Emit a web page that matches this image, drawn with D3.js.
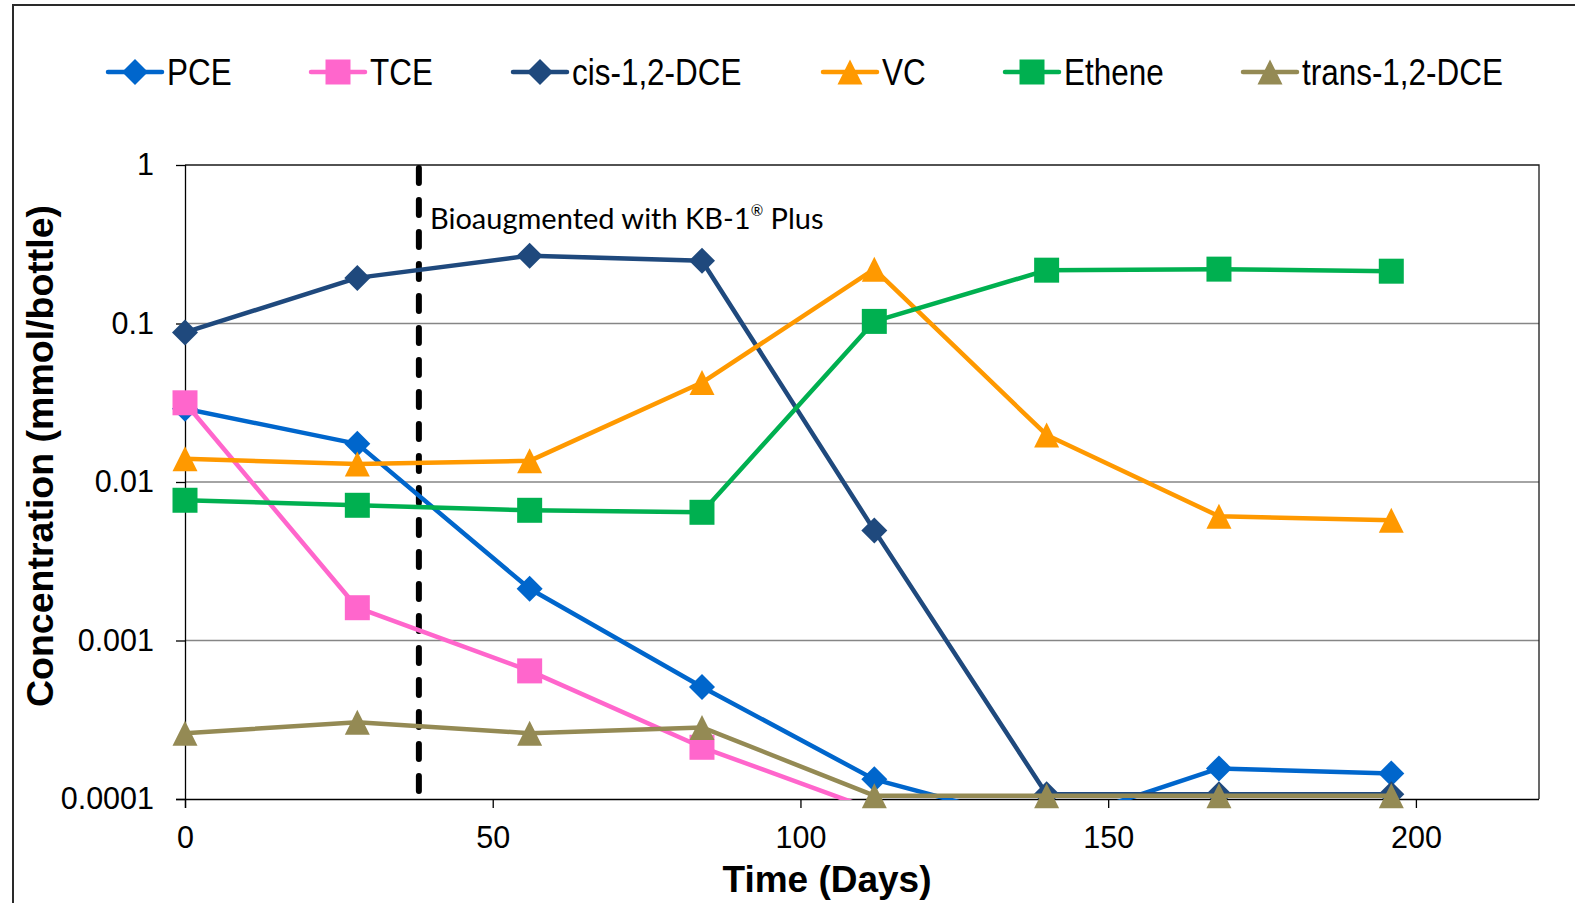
<!DOCTYPE html>
<html><head><meta charset="utf-8">
<script src="https://cdn.jsdelivr.net/npm/d3@7"></script>
<style>body{margin:0;background:#fff}svg{display:block}</style>
</head><body><svg id="chart" width="1575" height="903"></svg>
<script>
// Sampling days and concentrations (mmol/bottle)
const days = [0, 28, 56, 84, 112, 140, 168, 196];
const pce = [0.029, 0.0174, 0.00212, 0.000509, 0.000133, 0.000068, 0.000156, 0.000145];
const tce = [0.0316, 0.00161, 0.000643, 0.000212, 0.000085];
const cisDce = [0.0878, 0.194, 0.268, 0.249, 0.00495, 0.000107, 0.000107, 0.000107];
const vc = [0.0140, 0.0130, 0.0136, 0.0424, 0.220, 0.0198, 0.00608, 0.00573];
const ethene = [0.00767, 0.00713, 0.00663, 0.00644, 0.1031, 0.217, 0.2203, 0.2138];
const transDce = [0.00026, 0.000305, 0.00026, 0.000283, 0.000105, 0.000105, 0.000105, 0.000105];
const seriesNames = ["PCE", "TCE", "cis-1,2-DCE", "VC", "Ethene", "trans-1,2-DCE"];
const seriesValues = [pce, tce, cisDce, vc, ethene, transDce];
const seriesColors = ["#0066CC", "#FF66CC", "#1F497D", "#FF9900", "#00B050", "#948A54"];
const seriesMarkers = ["diamond", "square", "diamond", "triangle", "square", "triangle"];
const xTickValues = [0, 50, 100, 150, 200];
const yTickValues = [0.0001, 0.001, 0.01, 0.1, 1];
const yTickLabels = ["0.0001", "0.001", "0.01", "0.1", "1"];
const bioaugmentDay = 38;

// layout
const plot = {left: 185, right: 1539, top: 165, bottom: 799};
const legendX = [108, 311, 513, 823, 1005, 1243];
const legendY = 72;

const svg = d3.select("#chart");
const x = d3.scaleLinear().domain([0, 220]).range([plot.left, plot.right]);
const y = d3.scaleLog().domain([0.0001, 1]).range([plot.bottom, plot.top]);

// outer chart frame
svg.append("path").attr("d", "M13,903V5H1575")
  .attr("fill", "none").attr("stroke", "#2a2a2a").attr("stroke-width", 2);

// gridlines
svg.append("g").selectAll("line").data(yTickValues.slice(1, 4)).join("line")
  .attr("x1", plot.left).attr("x2", plot.right)
  .attr("y1", d => y(d)).attr("y2", d => y(d))
  .attr("stroke", "#868686").attr("stroke-width", 1.3);

// plot frame (top / right)
svg.append("path")
  .attr("d", `M${plot.left},${plot.top}H${plot.right}V${plot.bottom}`)
  .attr("fill", "none").attr("stroke", "#1a1a1a").attr("stroke-width", 1.3);

// axes
const xAxis = svg.append("g").attr("transform", `translate(0,${plot.bottom})`)
  .call(d3.axisBottom(x).tickValues(xTickValues).tickSize(9).tickSizeOuter(0).tickPadding(18).tickFormat(d3.format("d")));
const yAxis = svg.append("g").attr("transform", `translate(${plot.left},0)`)
  .call(d3.axisLeft(y).tickValues(yTickValues).tickSize(9).tickSizeOuter(0).tickPadding(22)
    .tickFormat((d, i) => yTickLabels[i]));
xAxis.select(".domain").attr("d", `M${plot.left - 9},0.5H${plot.right}`);
yAxis.select(".domain").attr("d", `M0.5,${plot.top}V${plot.bottom + 9}`);
[xAxis, yAxis].forEach(g => {
  g.selectAll(".domain, .tick line").attr("stroke", "#000").attr("stroke-width", 1.3);
  g.selectAll(".tick text").attr("font-family", "'Liberation Sans', Arial, sans-serif")
    .attr("font-size", 30.5).attr("fill", "#000");
});

// axis titles
svg.append("text").attr("x", 827).attr("y", 892).attr("text-anchor", "middle")
  .attr("font-family", "'Liberation Sans', Arial, sans-serif").attr("font-weight", "bold")
  .attr("font-size", 37).text("Time (Days)");
svg.append("text").attr("transform", "translate(53,456) rotate(-90)").attr("text-anchor", "middle")
  .attr("font-family", "'Liberation Sans', Arial, sans-serif").attr("font-weight", "bold")
  .attr("font-size", 37.5).text("Concentration (mmol/bottle)");

// bioaugmentation marker
svg.append("line").attr("x1", x(bioaugmentDay)).attr("x2", x(bioaugmentDay))
  .attr("y1", plot.top + 3).attr("y2", plot.bottom)
  .attr("stroke", "#000").attr("stroke-width", 6).attr("stroke-linecap", "round")
  .attr("stroke-dasharray", "15,17");
const note = svg.append("text").attr("x", 430).attr("y", 229)
  .attr("font-family", "Lato, 'Open Sans', sans-serif").attr("font-size", 29).attr("fill", "#000");
note.append("tspan").text("Bioaugmented with KB-1");
note.append("tspan").attr("font-size", 15).attr("dy", -13).text("®");
note.append("tspan").attr("dy", 13).text(" Plus");

// marker shapes
function markerPath(type) {
  if (type === "diamond") return "M0,-13L13,0L0,13L-13,0Z";
  if (type === "square") return "M-12.5,-12.5H12.5V12.5H-12.5Z";
  return "M0,-12.5L12.5,12.5L-12.5,12.5Z";
}

svg.append("defs").append("clipPath").attr("id", "plotClip")
  .append("rect").attr("x", plot.left).attr("y", plot.top)
  .attr("width", plot.right - plot.left).attr("height", plot.bottom - plot.top + 1);

const line = d3.line().x(d => x(d[0])).y(d => y(d[1]));

seriesValues.forEach((vals, i) => {
  const pts = vals.map((v, j) => [days[j], v]);
  const g = svg.append("g");
  g.append("path").datum(pts).attr("d", line).attr("clip-path", "url(#plotClip)")
    .attr("fill", "none").attr("stroke", seriesColors[i]).attr("stroke-width", 4.5)
    .attr("stroke-linejoin", "round").attr("stroke-linecap", "round");
  g.selectAll("path.m").data(pts.filter(p => p[1] >= 0.0001)).join("path")
    .attr("class", "m")
    .attr("transform", d => `translate(${x(d[0])},${y(d[1])})`)
    .attr("d", markerPath(seriesMarkers[i])).attr("fill", seriesColors[i]);
});

// legend
const leg = svg.append("g").selectAll("g").data(seriesNames).join("g")
  .attr("transform", (d, i) => `translate(${legendX[i]},${legendY})`);
leg.append("line").attr("x1", 0).attr("x2", 54)
  .attr("stroke", (d, i) => seriesColors[i]).attr("stroke-width", 4.5).attr("stroke-linecap", "round");
leg.append("path").attr("transform", "translate(27,0)")
  .attr("d", (d, i) => markerPath(seriesMarkers[i])).attr("fill", (d, i) => seriesColors[i]);
// condensed legend labels
leg.append("text").attr("transform", "translate(59,13) scale(0.85,1)")
  .attr("font-family", "'Liberation Sans', Arial, sans-serif")
  .attr("font-size", 37).attr("fill", "#000").text(d => d);
</script>
</body></html>
